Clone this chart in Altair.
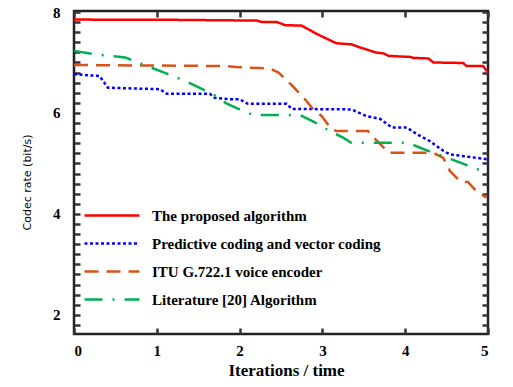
import altair as alt
import pandas as pd

series_names = [
    "The proposed algorithm",
    "Predictive coding and vector coding",
    "ITU G.722.1 voice encoder",
    "Literature [20] Algorithm",
]
series_colors = ["#FF0000", "#0000FF", "#D95319", "#00B050"]
series_dashes = [[1, 0], [3, 2.5], [14, 8], [18, 10, 2, 10]]

x_red = [0, 1.2, 2.21, 2.27, 2.45, 2.55, 2.75, 2.95, 3.17, 3.35, 3.43, 3.53, 3.64, 3.74, 3.80, 4.06, 4.10, 4.28, 4.34, 4.70, 4.74, 4.94, 5.0]
y_red = [7.85, 7.845, 7.83, 7.80, 7.80, 7.74, 7.73, 7.55, 7.38, 7.36, 7.31, 7.26, 7.20, 7.18, 7.13, 7.11, 7.09, 7.08, 7.00, 6.99, 6.93, 6.93, 6.80]

x_blue = [0, 0.31, 0.41, 1.04, 1.12, 1.64, 1.70, 1.88, 2.0, 2.10, 2.57, 2.63, 3.35, 3.53, 3.70, 3.84, 4.02, 4.14, 4.30, 4.46, 4.54, 4.86, 5.0]
y_blue = [6.77, 6.73, 6.50, 6.47, 6.38, 6.38, 6.30, 6.27, 6.27, 6.18, 6.18, 6.08, 6.07, 5.94, 5.88, 5.71, 5.71, 5.58, 5.44, 5.25, 5.18, 5.11, 5.08]

x_orange = [0, 1.84, 1.96, 2.37, 2.47, 2.63, 2.79, 2.89, 2.99, 3.11, 3.17, 3.55, 3.62, 3.70, 3.80, 4.34, 4.46, 4.54, 4.66, 4.76, 4.86, 4.98]
y_orange = [6.95, 6.93, 6.91, 6.88, 6.80, 6.55, 6.27, 6.07, 5.94, 5.68, 5.64, 5.64, 5.51, 5.38, 5.21, 5.21, 5.11, 4.85, 4.65, 4.63, 4.45, 4.32]

x_green = [0, 0.27, 0.45, 0.62, 0.82, 1.12, 1.36, 1.68, 1.84, 2.0, 2.16, 2.73, 2.95, 3.09, 3.25, 3.35, 4.04, 4.18, 4.34, 4.56, 4.72, 4.88, 5.0]
y_green = [7.23, 7.16, 7.13, 7.10, 6.97, 6.78, 6.62, 6.37, 6.19, 6.07, 5.96, 5.96, 5.78, 5.64, 5.51, 5.41, 5.41, 5.31, 5.21, 5.08, 4.98, 4.88, 4.81]

x_ticks = [0, 1, 2, 3, 4, 5]
y_ticks = [round(1.8 + 0.2 * i, 1) for i in range(32)]

rows = []
for name, xs, ys in zip(series_names, [x_red, x_blue, x_orange, x_green], [y_red, y_blue, y_orange, y_green]):
    for i, (a, b) in enumerate(zip(xs, ys)):
        rows.append({"series": name, "x": a, "y": b, "order": i})
df = pd.DataFrame(rows)

xscale = alt.Scale(domain=[0, 5], nice=False, zero=False)
yscale = alt.Scale(domain=[1.62, 8.02], nice=False, zero=False)

serif = "Liberation Serif, Times New Roman, serif"
major_test = "abs(datum.value - round(datum.value / 2) * 2) < 0.01"
tick_col = "#333333"

base_axis = dict(grid=False, domain=False, ticks=True, labelColor="black", titleColor="black",
                 tickColor=tick_col, tickWidth=2.5, tickSize=6, offset=-6)

x_bottom = alt.Axis(orient="bottom", values=x_ticks, format="d",
                    labelFont=serif, labelFontWeight="bold", labelFontSize=15, labelPadding=9,
                    title="Iterations / time", titleFont=serif, titleFontWeight="bold",
                    titleFontSize=17, titleX=212, titleY=42, titleBaseline="middle",
                    **base_axis)
y_left = alt.Axis(orient="left", values=y_ticks,
                  labelExpr=f"{major_test} ? format(datum.value, 'd') : ''",
                  labelFont=serif, labelFontWeight="bold", labelFontSize=15, labelPadding=14,
                  title="Codec rate (bit/s)", titleFont="DejaVu Sans", titleFontWeight="normal",
                  titleFontSize=11, titleX=-53, titleY=171, titleBaseline="middle",
                  **base_axis)
x_top = alt.Axis(orient="top", values=x_ticks, labels=False, title=None, **base_axis)
y_right = alt.Axis(orient="right", values=y_ticks, labels=False, title=None, **base_axis)

legend = alt.Legend(title=None, orient="none", legendX=9, legendY=190.5, symbolType="stroke",
                    symbolSize=3025, symbolStrokeWidth=2.5, labelFont=serif,
                    labelFontWeight="bold", labelFontSize=15, labelColor="black",
                    labelOffset=11, clipHeight=28, rowPadding=0, padding=0, labelLimit=400)

lines = alt.Chart(df).mark_line(strokeWidth=2.5).encode(
    x=alt.X("x:Q", scale=xscale, axis=x_bottom),
    y=alt.Y("y:Q", scale=yscale, axis=y_left),
    color=alt.Color("series:N", sort=series_names,
                    scale=alt.Scale(domain=series_names, range=series_colors), legend=legend),
    strokeDash=alt.StrokeDash("series:N", sort=series_names,
                              scale=alt.Scale(domain=series_names, range=series_dashes), legend=legend),
    order="order:Q",
)

frame_axes = alt.Chart(df).mark_line(opacity=0).encode(
    x=alt.X("x:Q", scale=xscale, axis=x_top),
    y=alt.Y("y:Q", scale=yscale, axis=y_right),
    detail="series:N",
    order="order:Q",
)

chart = alt.layer(lines, frame_axes).resolve_axis(x="independent", y="independent").properties(
    width=414, height=323,
    autosize=alt.AutoSizeParams(type="none"),
    padding={"left": 66, "top": 3, "right": 17, "bottom": 45},
    background="white",
).configure_view(stroke="#222", strokeWidth=2.5)

chart.save("out.html", embed_options={"renderer": "svg", "actions": False})
